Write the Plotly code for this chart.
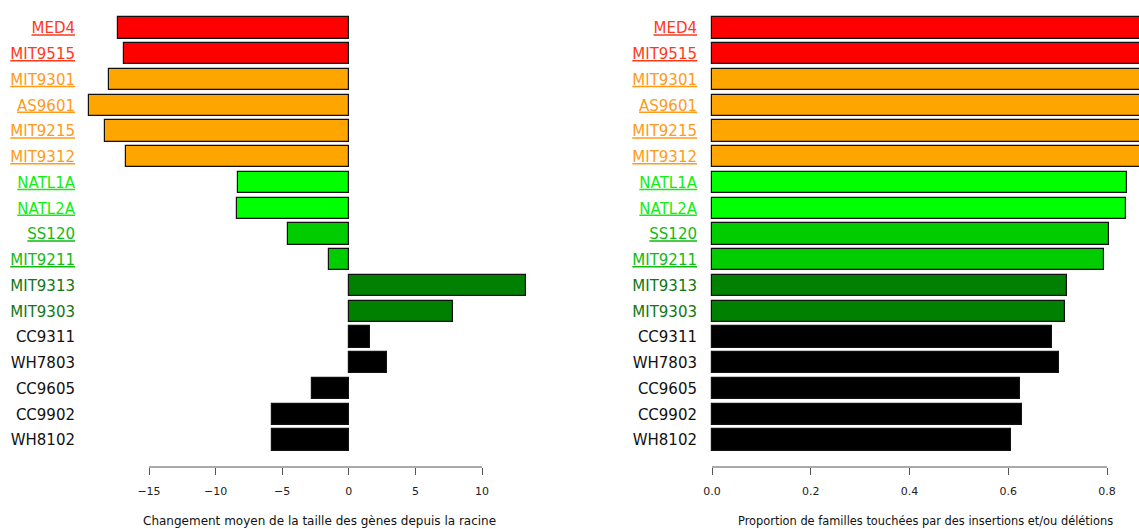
import plotly.graph_objects as go

strains = ["MED4", "MIT9515", "MIT9301", "AS9601", "MIT9215", "MIT9312",
           "NATL1A", "NATL2A", "SS120", "MIT9211", "MIT9313", "MIT9303",
           "CC9311", "WH7803", "CC9605", "CC9902", "WH8102"]
mean_change = [-17.3, -16.9, -18.0, -19.5, -18.3, -16.7,
               -8.3, -8.4, -4.6, -1.5, 13.3, 7.8,
               1.6, 2.9, -2.8, -5.8, -5.8]
prop_indel = [0.93, 0.92, 0.91, 0.92, 0.91, 0.90,
              0.841, 0.838, 0.805, 0.794, 0.719, 0.715,
              0.689, 0.703, 0.624, 0.627, 0.605]
bar_colors = ["#FF0000", "#FF0000", "#FFA500", "#FFA500", "#FFA500", "#FFA500",
              "#00FF00", "#00FF00", "#00CC00", "#00CC00", "#008000", "#008000",
              "#000000", "#000000", "#000000", "#000000", "#000000"]
label_colors = ["#FF3A1A", "#FF3A1A", "#FF9A1A", "#FF9A1A", "#FF9A1A", "#FF9A1A",
                "#11EE11", "#11EE11", "#11BB11", "#11BB11", "#117711", "#117711",
                "#111111", "#111111", "#111111", "#111111", "#111111"]
underlined = [True] * 10 + [False] * 7
left_ticks = [-15, -10, -5, 0, 5, 10]
right_ticks = [0.0, 0.2, 0.4, 0.6, 0.8]
left_title = "Changement moyen de la taille des gènes depuis la racine"
right_title = "Proportion de familles touchées par des insertions et/ou délétions"

W, H = 1139, 529
ticktext = []
for s, c, u in zip(strains, label_colors, underlined):
    t = f"<u>{s}</u>" if u else s
    ticktext.append(f'<span style="color:{c}">{t}</span>')

FONT = "DejaVu Sans"

fig = go.Figure()
fig.add_trace(go.Bar(y=strains, x=mean_change, orientation="h",
                     marker=dict(color=bar_colors, line=dict(color="#111111", width=1.2)),
                     width=1 / 1.2, xaxis="x", yaxis="y", showlegend=False))
fig.add_trace(go.Bar(y=strains, x=prop_indel, orientation="h",
                     marker=dict(color=bar_colors, line=dict(color="#111111", width=1.2)),
                     width=1 / 1.2, xaxis="x2", yaxis="y2", showlegend=False))

top_px, bot_px = 10, 467
row0, row_last = 28, 440
step = (row_last - row0) / (len(strains) - 1)
y_range = [len(strains) - 1 + (bot_px - row_last) / step, -(row0 - top_px) / step]

lx0, lx1 = 82, 545
l_px_per = (482 - 149) / 25
l_range = [-15 + (lx0 - 149) / l_px_per, 10 + (lx1 - 482) / l_px_per]
rx0, rx1 = 705, W
r_px_per = (1107 - 712) / 0.8
r_range = [(rx0 - 712) / r_px_per, (rx1 - 712) / r_px_per]

common_x = dict(showgrid=False, zeroline=False, showline=False, ticks="outside",
                ticklen=7, tickwidth=1, tickcolor="#555555", ticklabelstandoff=7,
                tickfont=dict(family=FONT, size=11, color="#222222"))
common_y = dict(type="category", range=y_range, showgrid=False, zeroline=False,
                showline=False, ticks="", tickvals=strains, ticktext=ticktext,
                tickfont=dict(family=FONT, size=15, color="#111111"),
                automargin=False)

fig.update_layout(
    width=W, height=H,
    margin=dict(l=0, r=0, t=top_px, b=H - bot_px),
    paper_bgcolor="white", plot_bgcolor="white",
    bargap=0,
    xaxis=dict(domain=[lx0 / W, lx1 / W], range=l_range, tickvals=left_ticks,
               anchor="y", automargin=False, **common_x),
    yaxis=dict(anchor="x", ticklabelstandoff=6, **common_y),
    xaxis2=dict(domain=[rx0 / W, 1.0], range=r_range, tickvals=right_ticks,
                ticktext=[f"{v:.1f}" for v in right_ticks],
                anchor="y2", automargin=False, **common_x),
    yaxis2=dict(anchor="x2", ticklabelstandoff=7, **common_y),
)

fig.add_shape(type="line", xref="x", yref="paper", x0=min(left_ticks), x1=max(left_ticks),
              y0=0, y1=0, line=dict(color="#555555", width=1))
fig.add_shape(type="line", xref="x2", yref="paper", x0=min(right_ticks), x1=max(right_ticks),
              y0=0, y1=0, line=dict(color="#555555", width=1))

plot_h = bot_px - top_px
title_y = -(521 - bot_px) / plot_h
fig.add_annotation(text=left_title, xref="paper", yref="paper", x=319 / W, y=title_y,
                   xanchor="center", yanchor="middle", showarrow=False,
                   font=dict(family=FONT, size=12, color="#111111"))
fig.add_annotation(text=right_title, xref="paper", yref="paper", x=925 / W, y=title_y,
                   xanchor="center", yanchor="middle", showarrow=False,
                   font=dict(family=FONT, size=11.4, color="#111111"))

fig.write_html("out.html", config={"displayModeBar": False},
               post_script="document.body.style.margin='0';document.body.style.overflow='hidden';")
